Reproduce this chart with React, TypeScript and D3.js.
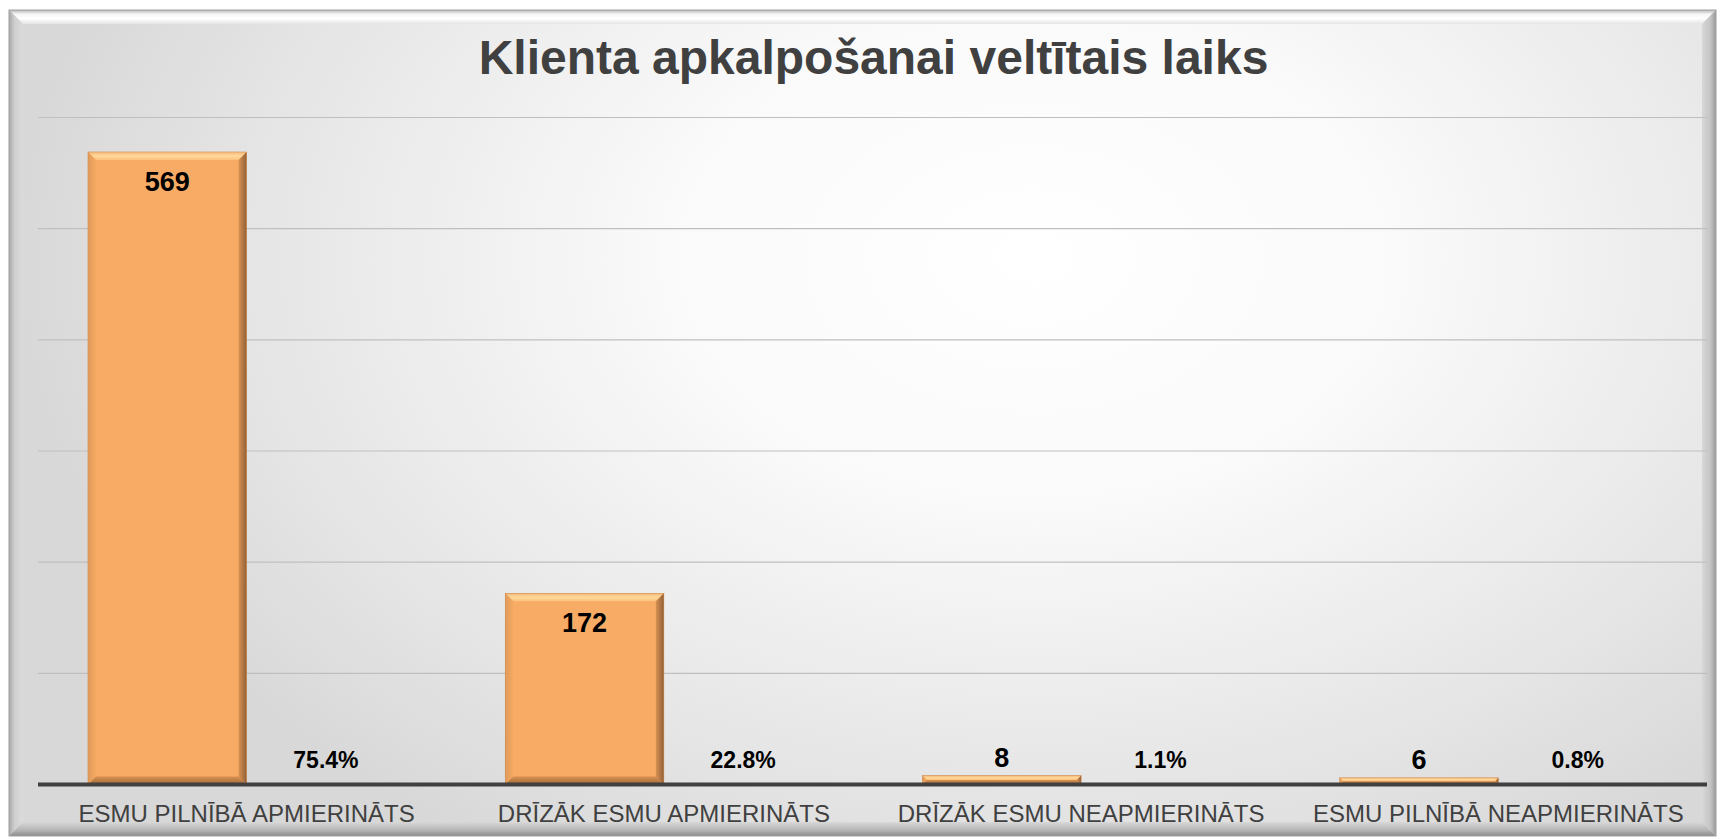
import React from "react";
import * as d3 from "d3";

const title = "Klienta apkalpošanai veltītais laiks";
const categories = [
  "ESMU PILNĪBĀ APMIERINĀTS",
  "DRĪZĀK ESMU APMIERINĀTS",
  "DRĪZĀK ESMU NEAPMIERINĀTS",
  "ESMU PILNĪBĀ NEAPMIERINĀTS",
];
const counts = [569, 172, 8, 6];
const percents = [0.754, 0.228, 0.011, 0.008];
const yTicks = [0, 100, 200, 300, 400, 500, 600];

const W = 1723;
const H = 839;
const frame = { x0: 9, y0: 10, x1: 1716, y1: 836 };
const plot = { left: 38, right: 1707, top: 117.5, bottom: 784.5 };

export default function App() {
  const x = d3.scaleBand<string>().domain(categories).range([plot.left, plot.right]).paddingInner(0).paddingOuter(0);
  const xs = d3.scaleBand<string>().domain(["count", "pct"]).range([0, x.bandwidth()]).paddingInner(0).paddingOuter(0.315);
  const y = d3.scaleLinear().domain([0, 600]).range([plot.bottom, plot.top]);
  const bw = xs.bandwidth();
  const bev = 8;
  const fmtPct = d3.format(".1%");

  const bevelBar = (x0: number, y0: number, w: number, h: number, key: string) => {
    const x1 = x0 + w;
    const y1 = y0 + h;
    const b = Math.min(bev, h / 2, w / 2);
    return (
      <g key={key}>
        <rect x={x0} y={y0} width={w} height={h} fill="#F8AB65" />
        <polygon points={`${x0},${y0} ${x1},${y0} ${x1 - b},${y0 + b} ${x0 + b},${y0 + b}`} fill="url(#bevTop)" />
        <polygon points={`${x1},${y0} ${x1},${y1} ${x1 - b},${y1 - b} ${x1 - b},${y0 + b}`} fill="url(#bevRight)" />
        <polygon points={`${x0},${y0} ${x0 + b},${y0 + b} ${x0 + b},${y1 - b} ${x0},${y1}`} fill="url(#bevLeft)" />
        <polygon points={`${x0},${y1} ${x0 + b},${y1 - b} ${x1 - b},${y1 - b} ${x1},${y1}`} fill="url(#bevBottom)" />
        <rect x={x0} y={y0} width={w} height={h} fill="none" stroke="#c98a50" strokeWidth={0.5} />
      </g>
    );
  };

  const fb = 14;
  return (
    <svg width={W} height={H} style={{ position: "absolute", left: 0, top: 0 }} fontFamily="'Liberation Sans', Arial, sans-serif">
      <defs>
        <radialGradient id="bg" cx="0.6" cy="0.3" r="0.6" gradientTransform="translate(0.6 0.3) scale(1 1.4) translate(-0.6 -0.3)">
          <stop offset="0" stopColor="#ffffff" />
          <stop offset="0.35" stopColor="#fafafa" />
          <stop offset="0.75" stopColor="#e6e6e6" />
          <stop offset="1" stopColor="#d8d8d8" />
        </radialGradient>
        <linearGradient id="frTop" x1="0" y1="0" x2="0" y2="1">
          <stop offset="0" stopColor="#b8b8b8" />
          <stop offset="0.3" stopColor="#f6f6f6" />
          <stop offset="0.6" stopColor="#ffffff" />
          <stop offset="1" stopColor="#e4e4e4" />
        </linearGradient>
        <linearGradient id="frLeft" x1="0" y1="0" x2="1" y2="0">
          <stop offset="0" stopColor="#a8a8a8" />
          <stop offset="0.4" stopColor="#cfcfcf" />
          <stop offset="1" stopColor="#dcdcdc" />
        </linearGradient>
        <linearGradient id="frRight" x1="0" y1="0" x2="1" y2="0">
          <stop offset="0" stopColor="#d8d8d8" />
          <stop offset="0.6" stopColor="#c4c4c4" />
          <stop offset="1" stopColor="#9a9a9a" />
        </linearGradient>
        <linearGradient id="frBottom" x1="0" y1="0" x2="0" y2="1">
          <stop offset="0" stopColor="#d8d8d8" />
          <stop offset="0.6" stopColor="#b4b4b4" />
          <stop offset="1" stopColor="#8a8a8a" />
        </linearGradient>
        <linearGradient id="bevTop" x1="0" y1="0" x2="0" y2="1">
          <stop offset="0" stopColor="#f2b878" />
          <stop offset="0.5" stopColor="#ffd99a" />
          <stop offset="1" stopColor="#fbbf7c" />
        </linearGradient>
        <linearGradient id="bevRight" x1="0" y1="0" x2="1" y2="0">
          <stop offset="0" stopColor="#d99152" />
          <stop offset="1" stopColor="#8f6038" />
        </linearGradient>
        <linearGradient id="bevLeft" x1="0" y1="0" x2="1" y2="0">
          <stop offset="0" stopColor="#e09a5a" />
          <stop offset="1" stopColor="#f5a962" />
        </linearGradient>
        <linearGradient id="bevBottom" x1="0" y1="0" x2="0" y2="1">
          <stop offset="0" stopColor="#d8914f" />
          <stop offset="1" stopColor="#a06a3c" />
        </linearGradient>
      </defs>

      <rect x={frame.x0} y={frame.y0} width={frame.x1 - frame.x0} height={frame.y1 - frame.y0} fill="url(#bg)" />
      <polygon points={`${frame.x0},${frame.y0} ${frame.x1},${frame.y0} ${frame.x1 - fb},${frame.y0 + fb} ${frame.x0 + fb},${frame.y0 + fb}`} fill="url(#frTop)" />
      <polygon points={`${frame.x0},${frame.y0} ${frame.x0 + fb},${frame.y0 + fb} ${frame.x0 + fb},${frame.y1 - fb} ${frame.x0},${frame.y1}`} fill="url(#frLeft)" />
      <polygon points={`${frame.x1},${frame.y0} ${frame.x1},${frame.y1} ${frame.x1 - fb},${frame.y1 - fb} ${frame.x1 - fb},${frame.y0 + fb}`} fill="url(#frRight)" />
      <polygon points={`${frame.x0},${frame.y1} ${frame.x0 + fb},${frame.y1 - fb} ${frame.x1 - fb},${frame.y1 - fb} ${frame.x1},${frame.y1}`} fill="url(#frBottom)" />
      <rect x={frame.x0} y={frame.y0} width={frame.x1 - frame.x0} height={frame.y1 - frame.y0} fill="none" stroke="#a0a0a0" strokeWidth={1} />

      <text x={873.5} y={73.5} textAnchor="middle" fontSize={48} fontWeight="bold" fill="#404040">{title}</text>

      {yTicks.filter((t) => t > 0).map((t) => (
        <line key={t} x1={plot.left} x2={plot.right} y1={y(t)} y2={y(t)} stroke="#bfbfbf" strokeWidth={1.2} />
      ))}

      {categories.map((c, i) => {
        const bx = (x(c) as number) + (xs("count") as number);
        const top = y(counts[i]);
        const h = plot.bottom - top;
        return bevelBar(bx, top, bw, h, c);
      })}

      {categories.map((c, i) => {
        const px = (x(c) as number) + (xs("pct") as number);
        const top = y(percents[i]);
        const h = plot.bottom - top;
        return <rect key={"p" + c} x={px} y={top} width={bw} height={h} fill="#F8AB65" />;
      })}

      <line x1={plot.left} x2={plot.right} y1={plot.bottom} y2={plot.bottom} stroke="#404040" strokeWidth={4} />

      {categories.map((c, i) => {
        const cx = (x(c) as number) + (xs("count") as number) + bw / 2;
        const top = y(counts[i]);
        const inside = plot.bottom - top > 50;
        return (
          <text key={"l" + c} x={cx} y={inside ? top + 39 : top - 8.5} textAnchor="middle" fontSize={27} fontWeight="bold" fill="#000">
            {counts[i]}
          </text>
        );
      })}

      {categories.map((c, i) => {
        const cx = (x(c) as number) + (xs("pct") as number) + bw / 2;
        return (
          <text key={"pl" + c} x={cx} y={y(percents[i]) - 16} textAnchor="middle" fontSize={23} fontWeight="bold" fill="#000">
            {fmtPct(percents[i])}
          </text>
        );
      })}

      {categories.map((c) => (
        <text key={"c" + c} x={(x(c) as number) + x.bandwidth() / 2} y={821.5} textAnchor="middle" fontSize={24} fill="#404040">
          {c}
        </text>
      ))}
    </svg>
  );
}
